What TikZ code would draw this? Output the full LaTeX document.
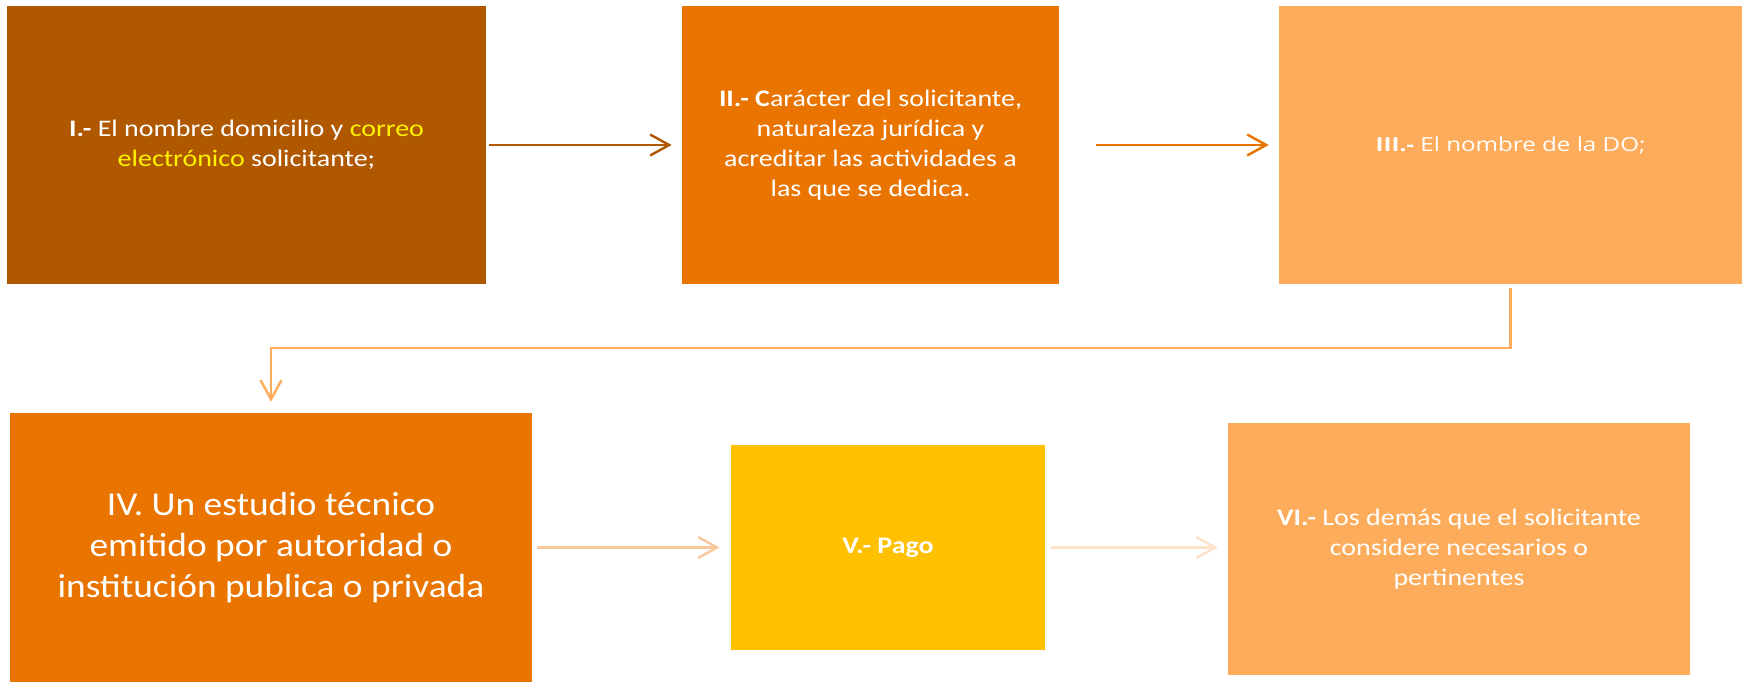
\documentclass[tikz,border=0pt]{standalone}
\usepackage{fontspec}
\setmainfont{Carlito}[FakeStretch=1.18]
\newfontfamily\widefont{Carlito}[FakeStretch=1.12]
\newfontfamily\opensans{Open Sans}[FakeStretch=1.25]
\usepackage{tikz}
\usetikzlibrary{arrows.meta}

\definecolor{rustbox}{HTML}{B05800}
\definecolor{orangebox}{HTML}{E97500}
\definecolor{peachbox}{HTML}{FDAC5B}
\definecolor{goldbox}{HTML}{FFC000}
\definecolor{paleflow}{HTML}{F9C89C}
\definecolor{faintflow}{HTML}{FDE3C9}

\tikzset{
    reqbox/.style={rectangle, inner sep=0pt, align=center, text=white,
        font=\fontsize{13.5}{17}\selectfont},
    flow/.style={line width=1.4pt, -{Straight Barb[length=0.38cm, width=0.42cm, line width=1.4pt]}}
}

\begin{document}
\begin{tikzpicture}[x=0.02cm, y=-0.02cm]
    \useasboundingbox (0,0) rectangle (1744,682);

    % Row 1
    \node[reqbox, fill=rustbox, minimum width=9.58cm, minimum height=5.56cm] (reqI) at (246.5,145)
        {\textbf{I.-} El nombre domicilio y \textcolor{yellow}{correo}\\
         \textcolor{yellow}{electrónico} solicitante;};
    \node[reqbox, fill=orangebox, minimum width=7.54cm, minimum height=5.56cm] (reqII) at (870.5,145)
        {\textbf{II.- C}arácter del solicitante,\\ naturaleza jurídica y\\
         acreditar las actividades a\\ las que se dedica.};
    \node[reqbox, fill=peachbox, minimum width=9.26cm, minimum height=5.56cm,
        font=\opensans\fontsize{11}{13}\selectfont] (reqIII) at (1510.5,145)
        {\textbf{III.-} El nombre de la DO;};

    % Row 2
    \node[reqbox, fill=orangebox, minimum width=10.44cm, minimum height=5.38cm,
        font=\widefont\fontsize{19}{23.3}\selectfont] (reqIV) at (271,547.5)
        {IV. Un estudio técnico\\ emitido por autoridad o\\ institución publica o privada};
    \node[reqbox, fill=goldbox, minimum width=6.28cm, minimum height=4.1cm] (reqV) at (888,547.5)
        {\textbf{V.- Pago}};
    \node[reqbox, fill=peachbox, minimum width=9.24cm, minimum height=5.04cm] (reqVI) at (1459,549)
        {\textbf{VI.-} Los demás que el solicitante\\ considere necesarios o\\ pertinentes};

    % Connectors
    \coordinate (elbow) at (271,348);
    \draw[flow, rustbox, shorten <=0.06cm, shorten >=0.2cm] (reqI.east) -- (reqII.west);
    \draw[flow, orangebox, shorten <=0.74cm, shorten >=0.2cm] (reqII.east) -- (reqIII.west);
    \draw[flow, peachbox, shorten <=0.08cm, shorten >=0.22cm]
        (reqIII.south) |- (elbow) -- (reqIV.north);
    \draw[flow, paleflow, shorten <=0.1cm, shorten >=0.22cm] (reqIV.east |- reqV.west) -- (reqV.west);
    \draw[flow, faintflow, shorten <=0.1cm, shorten >=0.2cm] (reqV.east) -- (reqVI.west |- reqV.east);
\end{tikzpicture}
\end{document}
